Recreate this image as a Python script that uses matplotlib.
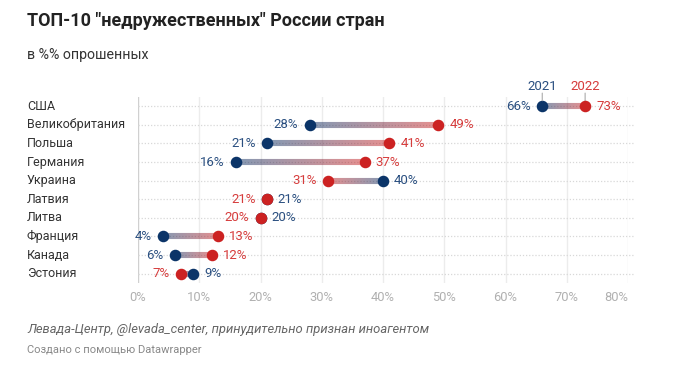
import numpy as np
import matplotlib
matplotlib.use("Agg")
import matplotlib.pyplot as plt
from matplotlib.collections import LineCollection
from matplotlib.colors import to_rgb
import matplotlib.transforms as mtransforms

plt.rcParams['font.family'] = ['Roboto', 'DejaVu Sans']

countries = ["США", "Великобритания", "Польша", "Германия", "Украина",
             "Латвия", "Литва", "Франция", "Канада", "Эстония"]
v2021 = [66, 28, 21, 16, 40, 21, 20, 4, 6, 9]
v2022 = [73, 49, 41, 37, 31, 21, 20, 13, 12, 7]
ticks = [0, 10, 20, 30, 40, 50, 60, 70, 80]

BLUE = "#0b3468"
RED = "#cc2222"
BLUE_TXT = "#2a4f80"
RED_TXT = "#d63c3c"

fig = plt.figure(figsize=(6.91, 3.65), dpi=100)
W, H = 691, 365
ax = fig.add_axes([138 / W, (H - 283) / H, (628 - 138) / W, (283 - 97) / H])
ax.set_xlim(0, 80)
ax.set_ylim(9.5, -0.5)
for s in ax.spines.values():
    s.set_visible(False)
ax.set_yticks([])
ax.set_xticks(ticks)
ax.set_xticklabels([f"{t}%" for t in ticks], color="#b0b0b0", fontsize=9.3)
ax.get_xticklabels()[-1].set_horizontalalignment("right")
ax.tick_params(axis="x", length=0, pad=6)

for t in ticks:
    ax.axvline(t, color="#d0d0d0" if t == 0 else "#ececec", lw=1, zorder=0)
for i in range(len(countries)):
    ax.plot([0, 81], [i, i], color="#d8d8d8", lw=0.9, ls=(0, (1, 1.5)),
            zorder=0, clip_on=False)

c1 = np.array(to_rgb(BLUE))
c2 = np.array(to_rgb(RED))
n = 40
for i, (a, b) in enumerate(zip(v2021, v2022)):
    if a != b:
        xs = np.linspace(a, b, n + 1)
        segs = [[(xs[k], i), (xs[k + 1], i)] for k in range(n)]
        cols = [tuple(c1 + (c2 - c1) * (k + 0.5) / n) + (0.5,) for k in range(n)]
        ax.add_collection(LineCollection(segs, colors=cols, linewidths=4.4,
                                         capstyle="butt", zorder=2))
    ax.plot(a, i, "o", color=BLUE, ms=7.3, zorder=3)
    ax.plot(b, i, "o", color=RED, ms=7.3, zorder=4)
    # labels: lower value on left, higher on right
    if b >= a:
        left, lc, right, rc = a, BLUE_TXT, b, RED_TXT
        if a == b:
            lc, rc = RED_TXT, BLUE_TXT
    else:
        left, lc, right, rc = b, RED_TXT, a, BLUE_TXT
    ax.annotate(f"{left}%", (left, i), xytext=(-8, 0), textcoords="offset points",
                ha="right", va="center", color=lc, fontsize=9.5)
    ax.annotate(f"{right}%", (right, i), xytext=(8, 0), textcoords="offset points",
                ha="left", va="center", color=rc, fontsize=9.5)

# year labels above first row
for val, lab, col in [(v2021[0], "2021", BLUE_TXT), (v2022[0], "2022", RED_TXT)]:
    ax.annotate(lab, (val, 0), xytext=(0, 9.5), textcoords="offset points",
                ha="center", va="bottom", color=col, fontsize=9.5)
    ax.annotate("", (val, 0), xytext=(0, 9.5), textcoords="offset points",
                arrowprops=dict(arrowstyle="-", color="#aaaaaa", lw=0.8,
                                shrinkA=0, shrinkB=4))

trans = mtransforms.blended_transform_factory(fig.transFigure, ax.transData)
for i, c in enumerate(countries):
    ax.text(27 / W, i, c, transform=trans, ha="left", va="center",
            fontsize=9, color="#333333")

fig.text(27 / W, 1 - 21 / H, 'ТОП-10 "недружественных" России стран',
         fontsize=13, fontweight="bold", color="#222222", va="center")
fig.text(27 / W, 1 - 55 / H, "в %% опрошенных", fontsize=10.2,
         color="#333333", va="center")
fig.text(27 / W, 1 - 330 / H,
         "Левада-Центр, @levada_center, принудительно признан иноагентом",
         fontsize=9.4, style="italic", color="#666666", va="center")
fig.text(27 / W, 1 - 350 / H, "Создано с помощью Datawrapper",
         fontsize=8, color="#888888", va="center")

fig.savefig("out.png", dpi=100)
